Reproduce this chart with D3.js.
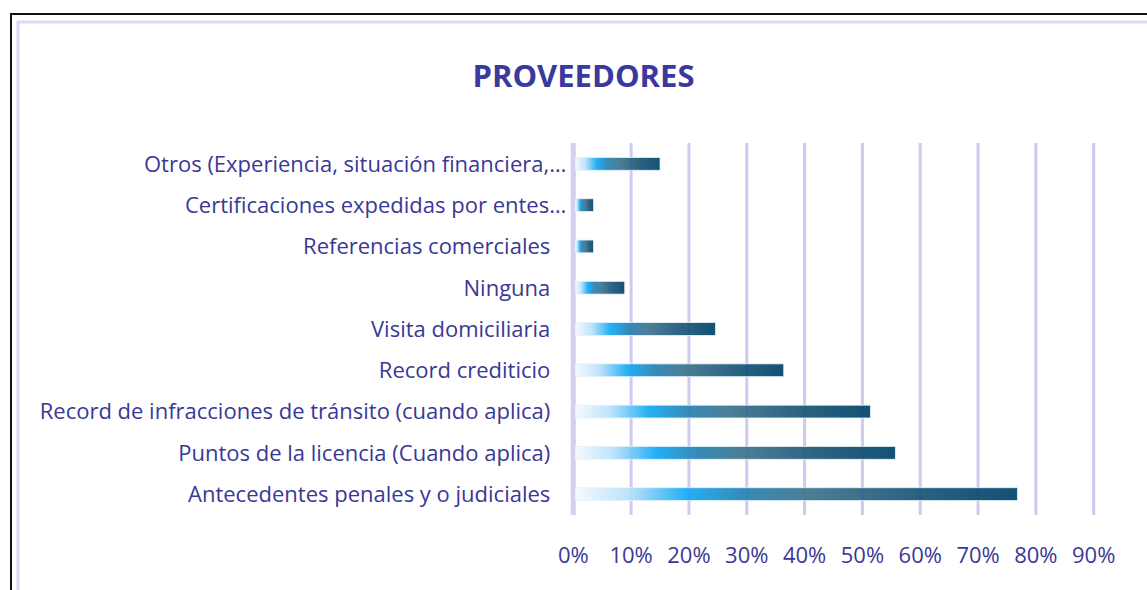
<!DOCTYPE html>
<html>
<head>
<meta charset="utf-8">
<script src="https://cdn.jsdelivr.net/npm/d3@7"></script>
<style>
  body { margin: 0; background: #fff; }
  svg { display: block; }
</style>
</head>
<body>
<div id="viz-container"></div>
<script>
// categories, top to bottom as shown
const categories = [
    "Otros (Experiencia, situación financiera,…",
    "Certificaciones expedidas por entes…",
    "Referencias comerciales",
    "Ninguna",
    "Visita domiciliaria",
    "Record crediticio",
    "Record de infracciones de tránsito (cuando aplica)",
    "Puntos de la licencia (Cuando aplica)",
    "Antecedentes penales y o judiciales"
];
const values = [0.150, 0.035, 0.035, 0.089, 0.246, 0.364, 0.514, 0.557, 0.768];
const tickValues = [0, 0.1, 0.2, 0.3, 0.4, 0.5, 0.6, 0.7, 0.8, 0.9];
const title = "PROVEEDORES";

const W = 1147, H = 590;
const svg = d3.select("#viz-container")
    .append("svg")
    .attr("width", W)
    .attr("height", H);

// frame: black outer border + lavender inner border
svg.append("rect")
    .attr("x", 11).attr("y", 14)
    .attr("width", 1200).attr("height", 700)
    .attr("fill", "none")
    .attr("stroke", "#111")
    .attr("stroke-width", 2);
svg.append("rect")
    .attr("x", 18).attr("y", 22)
    .attr("width", 1200).attr("height", 700)
    .attr("fill", "none")
    .attr("stroke", "#dcd8f6")
    .attr("stroke-width", 3);

const x = d3.scaleLinear()
    .domain([0, 0.9])
    .range([573.3, 1093.7]);

const y = d3.scaleBand()
    .domain(categories)
    .range([143, 515])
    .paddingInner(0.69)
    .paddingOuter(0.35);

const data = categories.map((c, i) => ({ cat: c, val: values[i] }));

// gradient per bar
const defs = svg.append("defs");
const grad = defs.append("linearGradient")
    .attr("id", "barGrad")
    .attr("x1", "0").attr("x2", "1")
    .attr("y1", "0").attr("y2", "0");
[
    [0, "#f4faff"], [0.12, "#b8e0fa"], [0.25, "#14aaf4"],
    [0.38, "#2782b4"], [0.52, "#3f748e"], [0.75, "#1d5879"], [1, "#01446a"]
].forEach(s => grad.append("stop").attr("offset", s[0]).attr("stop-color", s[1]));

// gridlines
svg.append("g")
    .selectAll("line")
    .data(tickValues)
    .enter().append("line")
    .attr("x1", d => x(d)).attr("x2", d => x(d))
    .attr("y1", 143).attr("y2", 515)
    .attr("stroke", d => d === 0 ? "#d4cff2" : "#d0c9f0")
    .attr("stroke-width", d => d === 0 ? 5 : 3);

// bars
svg.append("g")
    .selectAll("rect")
    .data(data)
    .enter().append("rect")
    .attr("x", x(0) + 2)
    .attr("y", d => y(d.cat))
    .attr("width", d => x(d.val) - x(0) - 2)
    .attr("height", y.bandwidth())
    .attr("fill", "url(#barGrad)")
    .attr("fill-opacity", 0.93)
    .attr("stroke", "#e4f1fa")
    .attr("stroke-width", 0.8);

// title
svg.append("text")
    .attr("x", 583.5)
    .attr("y", 87)
    .attr("text-anchor", "middle")
    .attr("font-family", "'Open Sans', sans-serif")
    .attr("font-weight", "bold")
    .attr("font-size", "31px")
    .attr("fill", "#3b389e")
    .text(title);

// category labels
svg.append("g")
    .selectAll("text")
    .data(categories)
    .enter().append("text")
    .attr("x", d => d.endsWith("…") ? x(0) - 7 : x(0) - 23)
    .attr("y", d => y(d) + y.bandwidth() / 2)
    .attr("dy", "0.36em")
    .attr("text-anchor", "end")
    .attr("font-family", "'Open Sans', sans-serif")
    .attr("font-size", "22px")
    .attr("fill", "#3a3896")
    .text(d => d);

// x tick labels
svg.append("g")
    .selectAll("text")
    .data(tickValues)
    .enter().append("text")
    .attr("x", d => x(d))
    .attr("y", 563)
    .attr("text-anchor", "middle")
    .attr("font-family", "'Open Sans', sans-serif")
    .attr("font-size", "22px")
    .attr("fill", "#3a3896")
    .text(d3.format(".0%"));
</script>
</body>
</html>
